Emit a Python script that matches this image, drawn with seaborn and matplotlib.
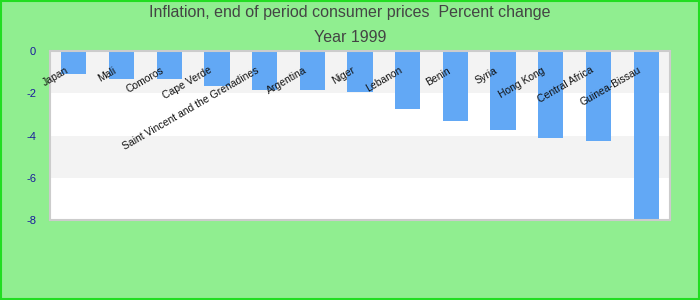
import matplotlib
matplotlib.use("Agg")
import matplotlib.pyplot as plt
import seaborn as sns
import pandas as pd

countries = ["Japan", "Mali", "Comoros", "Cape Verde", "Saint Vincent and the Grenadines",
             "Argentina", "Niger", "Lebanon", "Benin", "Syria", "Hong Kong",
             "Central Africa", "Guinea-Bissau"]
values = [-1.1, -1.33, -1.33, -1.67, -1.86, -1.86, -1.95, -2.76, -3.32, -3.75, -4.13, -4.27, -7.98]
yticks = [0, -2, -4, -6, -8]
title = "Inflation, end of period consumer prices  Percent change\nYear 1999"

sns.set_theme(style="white")
plt.rcParams['font.family'] = ['Liberation Sans', 'DejaVu Sans']

df = pd.DataFrame({"country": countries, "value": values})

fig = plt.figure(figsize=(7, 3), dpi=100, facecolor="#90ee90")
ax = fig.add_axes([50/700, 1-220/300, 620/700, 169/300])
ax.set_facecolor("white")

# alternating bands
for i in range(len(yticks) - 1):
    if i % 2 == 0:
        ax.axhspan(yticks[i + 1], yticks[i], facecolor="#f3f3f3", zorder=0, lw=0)

sns.barplot(data=df, x="country", y="value", color="#62a8f5", saturation=1,
            width=0.53, ax=ax, zorder=2, linewidth=0, edgecolor="none")

ax.set_ylim(-8, 0)
ax.set_xlim(-0.5, len(countries) - 0.5)
ax.set_yticks(yticks)
ax.set_yticklabels([str(t) for t in yticks], color="#1a1a9c", fontsize=8)
ax.tick_params(axis="y", length=0, pad=10)
ax.set_xticks([])
ax.set_xlabel("")
ax.set_ylabel("")
for s in ax.spines.values():
    s.set_color("#cccccc")
    s.set_linewidth(1.5)

trans = ax.get_xaxis_transform()
for i, c in enumerate(countries):
    ax.text(i - 0.13, 0.89, c, transform=trans, rotation=30, rotation_mode="anchor",
            ha="right", va="center", fontsize=7.5, color="#111111", zorder=3)

fig.text(0.5, 1 - 25/300, title, ha="center", va="center", fontsize=11.5,
         color="#444444", linespacing=1.75)

# outer border
border = plt.Rectangle((0.001, 0.002), 0.997, 0.995, transform=fig.transFigure,
                       fill=False, edgecolor="#22dd22", linewidth=1.5)
fig.patches.append(border)

fig.savefig("out.png", dpi=100, facecolor=fig.get_facecolor())
